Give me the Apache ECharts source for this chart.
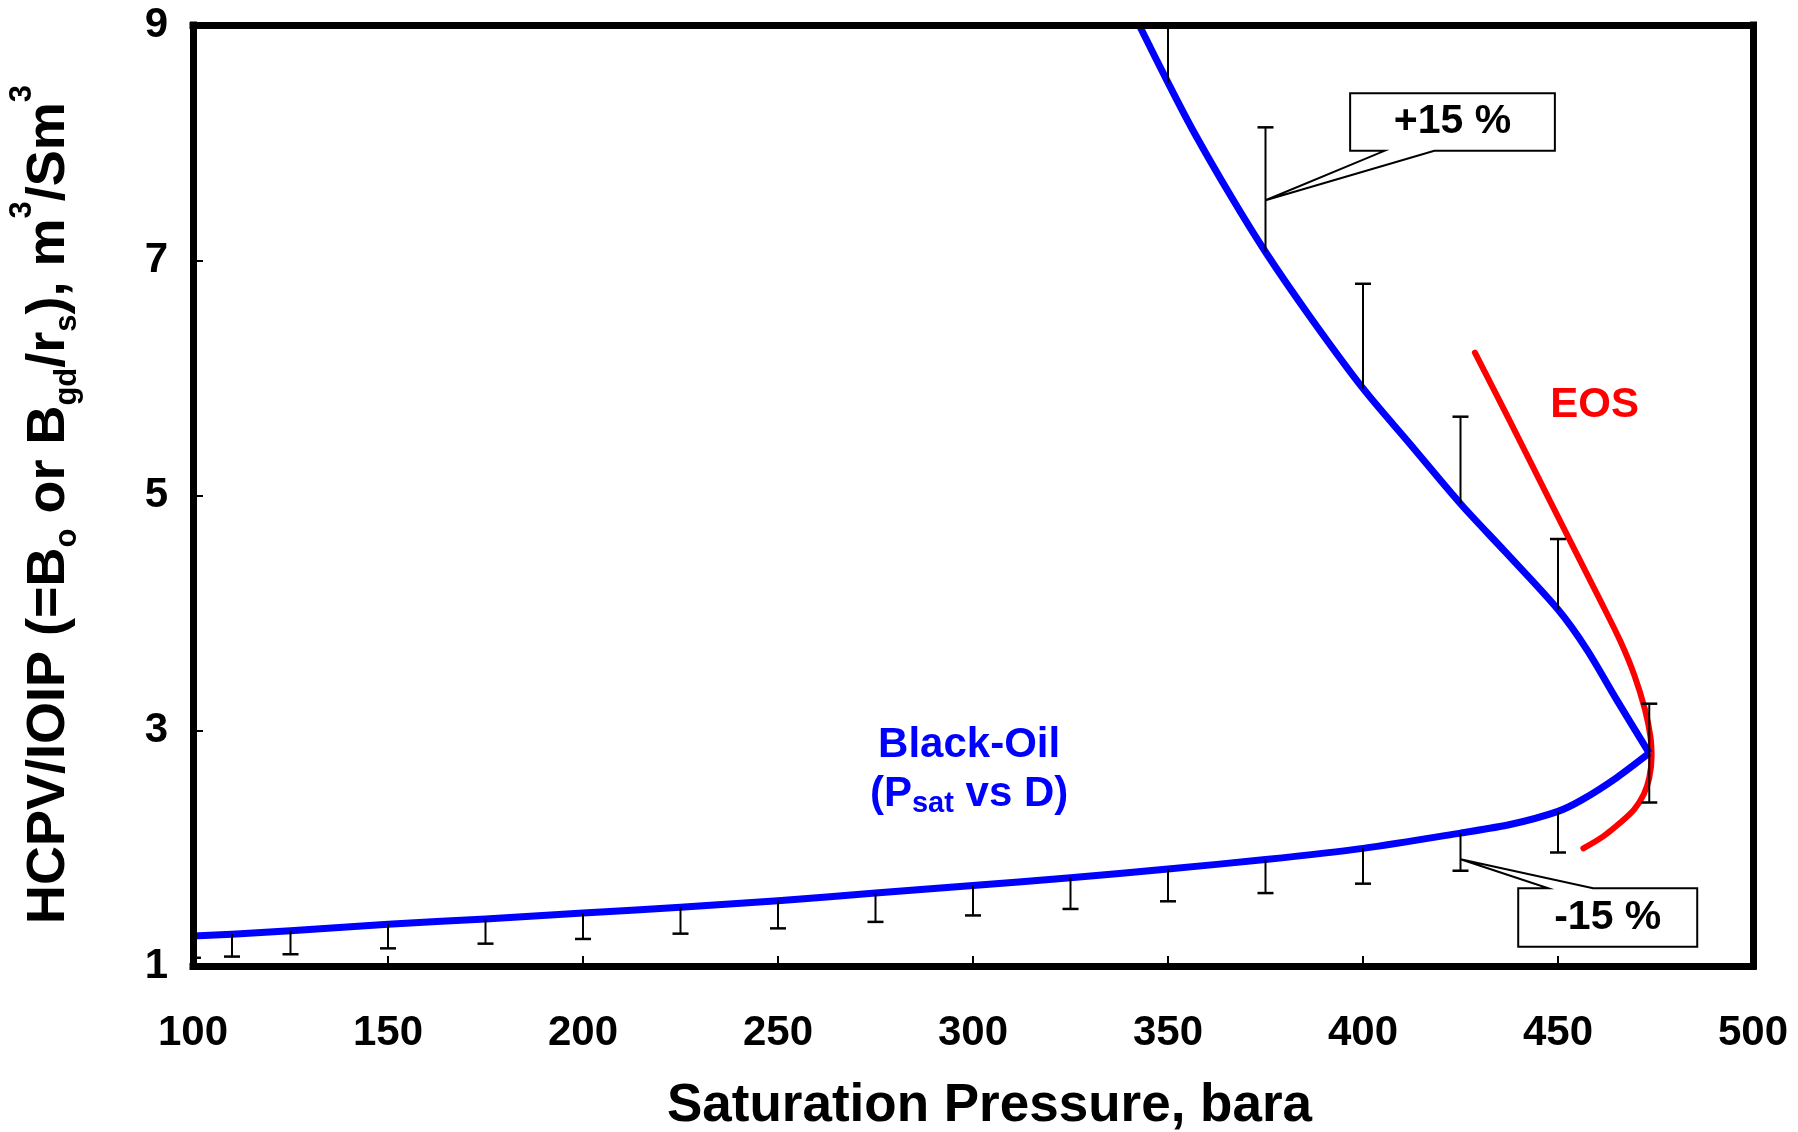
<!DOCTYPE html>
<html><head><meta charset="utf-8">
<script src="https://cdn.jsdelivr.net/npm/echarts@6/dist/echarts.min.js"></script>
<style>html,body{margin:0;padding:0;background:#fff}#chart{width:1798px;height:1132px}</style>
</head><body><div id="chart"></div>
<script>
// ---- data ----
const blackOilP    = [100,110,125,150,175,200,225,250,275,300,325,350,375,400,425,438,450,456,465,473.4,465.1,457.4,450,436.5,425,412,400,386.4,375,366.3,356.3,350,342.6];
const blackOilHCPV = [1.255,1.27,1.30,1.355,1.40,1.45,1.50,1.555,1.62,1.685,1.75,1.825,1.905,2.0,2.13,2.205,2.315,2.41,2.60,2.81,3.26,3.69,4.03,4.52,4.93,5.44,5.91,6.52,7.07,7.535,8.11,8.51,9.0];
const eosP    = [428.7,437.7,448.0,460.8,466.0,469.6,472.3,473.7,474.0,473.4,472.0,469.5,466.0,461.5,456.5];
const eosHCPV = [6.215,5.63,4.95,4.11,3.76,3.47,3.18,2.95,2.78,2.60,2.46,2.33,2.22,2.10,2.0];
const lowerBarP    = [100,110,125,150,175,200,225,250,275,300,325,350,375,400,425,450,473.4];
const lowerBarBase = [1.255,1.27,1.30,1.355,1.40,1.45,1.50,1.555,1.62,1.685,1.75,1.825,1.905,2.0,2.13,2.315,2.81];
const lowerBarEnd  = [1.07,1.08,1.10,1.15,1.19,1.23,1.275,1.32,1.375,1.43,1.485,1.55,1.62,1.70,1.81,1.965,2.39];
const upperBarP    = [350,375,400,425,450,473.4];
const upperBarBase = [8.51,7.07,5.91,4.93,4.03,2.81];
const upperBarEnd  = [9.79,8.13,6.80,5.67,4.63,3.23];

const FONT = '"Liberation Sans", Arial, Helvetica, sans-serif';
const zip = (a, b) => a.map((v, i) => [v, b[i]]);
const bars = (p, b, e) => p.map((v, i) => [v, b[i], e[i]]);
// the Black-Oil curve turns back at its maximum pressure; draw both branches from the same arrays
const tipIdx = blackOilP.indexOf(Math.max.apply(null, blackOilP));
const blackOilAll = zip(blackOilP, blackOilHCPV);

function renderBar(params, api) {
  const x = api.value(0), b = api.value(1), e = api.value(2);
  const p0 = api.coord([x, b]), p1 = api.coord([x, e]);
  const half = 8;
  return {type: 'group', children: [
    {type: 'line', shape: {x1: p0[0], y1: p0[1], x2: p1[0], y2: p1[1]}, style: {stroke: '#000', lineWidth: 2}},
    {type: 'line', shape: {x1: p1[0] - half, y1: p1[1], x2: p1[0] + half, y2: p1[1]}, style: {stroke: '#000', lineWidth: 2.5}}
  ]};
}

const chart = echarts.init(document.getElementById('chart'), null, {renderer: 'canvas'});
const frameLine = {color: '#000', width: 7, cap: 'square'};
const tickLabel = {fontSize: 42, fontWeight: 'bold', color: '#000', fontFamily: FONT, showMinLabel: true, showMaxLabel: true};
const blueLine = {color: '#0000ff', width: 7, join: 'round'};

chart.setOption({
  animation: false,
  backgroundColor: '#fff',
  grid: {left: 193, right: 45, top: 25, bottom: 166, containLabel: false, outerBoundsMode: 'none'},
  xAxis: [
    {type: 'value', min: 100, max: 500, interval: 50, position: 'bottom', z: 10,
     axisLine: {show: true, onZero: false, lineStyle: frameLine},
     axisTick: {show: true, inside: true, length: 10, lineStyle: {color: '#000', width: 2}},
     axisLabel: Object.assign({margin: 46}, tickLabel),
     splitLine: {show: false},
     name: 'Saturation Pressure, bara', nameLocation: 'middle', nameGap: 114,
     nameTextStyle: {fontSize: 53, fontWeight: 'bold', color: '#000', fontFamily: FONT, padding: [0, 0, 0, 33]}},
    {type: 'value', min: 100, max: 500, position: 'top', z: 10,
     axisLine: {show: true, onZero: false, lineStyle: frameLine},
     axisTick: {show: false}, axisLabel: {show: false}, splitLine: {show: false}}
  ],
  yAxis: [
    {type: 'value', min: 1, max: 9, interval: 2, position: 'left', z: 10,
     axisLine: {show: true, onZero: false, lineStyle: frameLine},
     axisTick: {show: true, inside: true, length: 10, lineStyle: {color: '#000', width: 2}},
     axisLabel: Object.assign({margin: 25}, tickLabel),
     splitLine: {show: false},
     name: '{m|HCPV/IOIP (=B}{sub|o}{m| or B}{sub|gd}{m|/r}{sub|s}{m|), m}{sup|3}{m|/Sm}{sup|3}',
     nameLocation: 'middle', nameGap: 101, nameRotate: 90,
     nameTextStyle: {fontSize: 54, fontWeight: 'bold', color: '#000', fontFamily: FONT, padding: [0, 18, 0, 0],
       rich: {
         m:   {fontSize: 54, fontWeight: 'bold', color: '#000', fontFamily: FONT, lineHeight: 85, verticalAlign: 'middle'},
         sub: {fontSize: 31, fontWeight: 'bold', color: '#000', fontFamily: FONT, lineHeight: 40, verticalAlign: 'bottom', padding: [0, 0, 9, 0]},
         sup: {fontSize: 31, fontWeight: 'bold', color: '#000', fontFamily: FONT, lineHeight: 31, verticalAlign: 'top', padding: [0, 0, 0, 0]}
       }}},
    {type: 'value', min: 1, max: 9, position: 'right', z: 10,
     axisLine: {show: true, onZero: false, lineStyle: frameLine},
     axisTick: {show: false}, axisLabel: {show: false}, splitLine: {show: false}}
  ],
  series: [
    {name: 'EOS', type: 'line', data: zip(eosP, eosHCPV),
     showSymbol: false, symbol: 'none', smooth: 0.3, z: 2,
     lineStyle: {color: '#ff0000', width: 6, cap: 'round'}},
    {name: 'Black-Oil', type: 'line', data: blackOilAll.slice(0, tipIdx + 1),
     showSymbol: false, symbol: 'none', smooth: 0.3, z: 3, lineStyle: blueLine},
    {name: 'Black-Oil', type: 'line', data: blackOilAll.slice(tipIdx),
     showSymbol: false, symbol: 'none', smooth: 0.3, z: 3, lineStyle: blueLine},
    {type: 'custom', clip: true, z: 4,
     renderItem: renderBar, data: bars(lowerBarP, lowerBarBase, lowerBarEnd)},
    {type: 'custom', clip: true, z: 4,
     renderItem: renderBar, data: bars(upperBarP, upperBarBase, upperBarEnd)}
  ]
});

// ---- annotations (anchored in data coordinates) ----
const px = (x, y) => chart.convertToPixel({seriesIndex: 1}, [x, y]);
const lbl = {fontFamily: FONT, fontWeight: 'bold', align: 'center', verticalAlign: 'middle'};
const graphics = [];

function callout(tip, xl, xr, yt, yb, wb1, wb2, wedgeSide, text) {
  const TL = px(xl, yt), TR = px(xr, yt), BR = px(xr, yb), BL = px(xl, yb), T = px(tip[0], tip[1]);
  let pts;
  if (wedgeSide === 'bottom') {
    pts = [TL, TR, BR, [px(wb2, yb)[0], BR[1]], T, [px(wb1, yb)[0], BL[1]], BL];
  } else {
    pts = [TL, [px(wb1, yt)[0], TL[1]], T, [px(wb2, yt)[0], TR[1]], TR, BR, BL];
  }
  graphics.push({type: 'polygon', z: 100, shape: {points: pts}, style: {fill: '#fff', stroke: '#000', lineWidth: 2}});
  graphics.push({type: 'text', z: 101, x: (TL[0] + TR[0]) / 2, y: (TL[1] + BL[1]) / 2,
    style: Object.assign({text: text, fontSize: 41, fill: '#000'}, lbl)});
}
callout([375, 7.51], 396.7, 449.2, 8.42, 7.93, 405.5, 418.3, 'bottom', '+15 %');
callout([425, 1.907], 439.8, 485.7, 1.661, 1.164, 447.5, 459.0, 'top', '-15 %');

const eosPos = px(459.4, 5.77);
graphics.push({type: 'text', z: 101, x: eosPos[0], y: eosPos[1],
  style: Object.assign({text: 'EOS', fontSize: 42, fill: '#ff0000'}, lbl)});

const boPos = px(299, 2.913);
graphics.push({type: 'text', z: 101, x: boPos[0], y: boPos[1] + 4,
  style: Object.assign({text: 'Black-Oil', fontSize: 42, fill: '#0000ff'}, lbl)});
graphics.push({type: 'text', z: 101, x: boPos[0], y: boPos[1] + 53,
  style: Object.assign({text: '{m|(P}{sub|sat}{m| vs D)}', fontSize: 42, fill: '#0000ff',
    rich: {
      m:   {fontSize: 42, fontWeight: 'bold', fontFamily: FONT, fill: '#0000ff', lineHeight: 60, verticalAlign: 'middle'},
      sub: {fontSize: 29, fontWeight: 'bold', fontFamily: FONT, fill: '#0000ff', lineHeight: 40, verticalAlign: 'bottom', padding: [0, 0, 5, 0]}
    }}, lbl)});

chart.setOption({graphic: graphics});
</script></body></html>
